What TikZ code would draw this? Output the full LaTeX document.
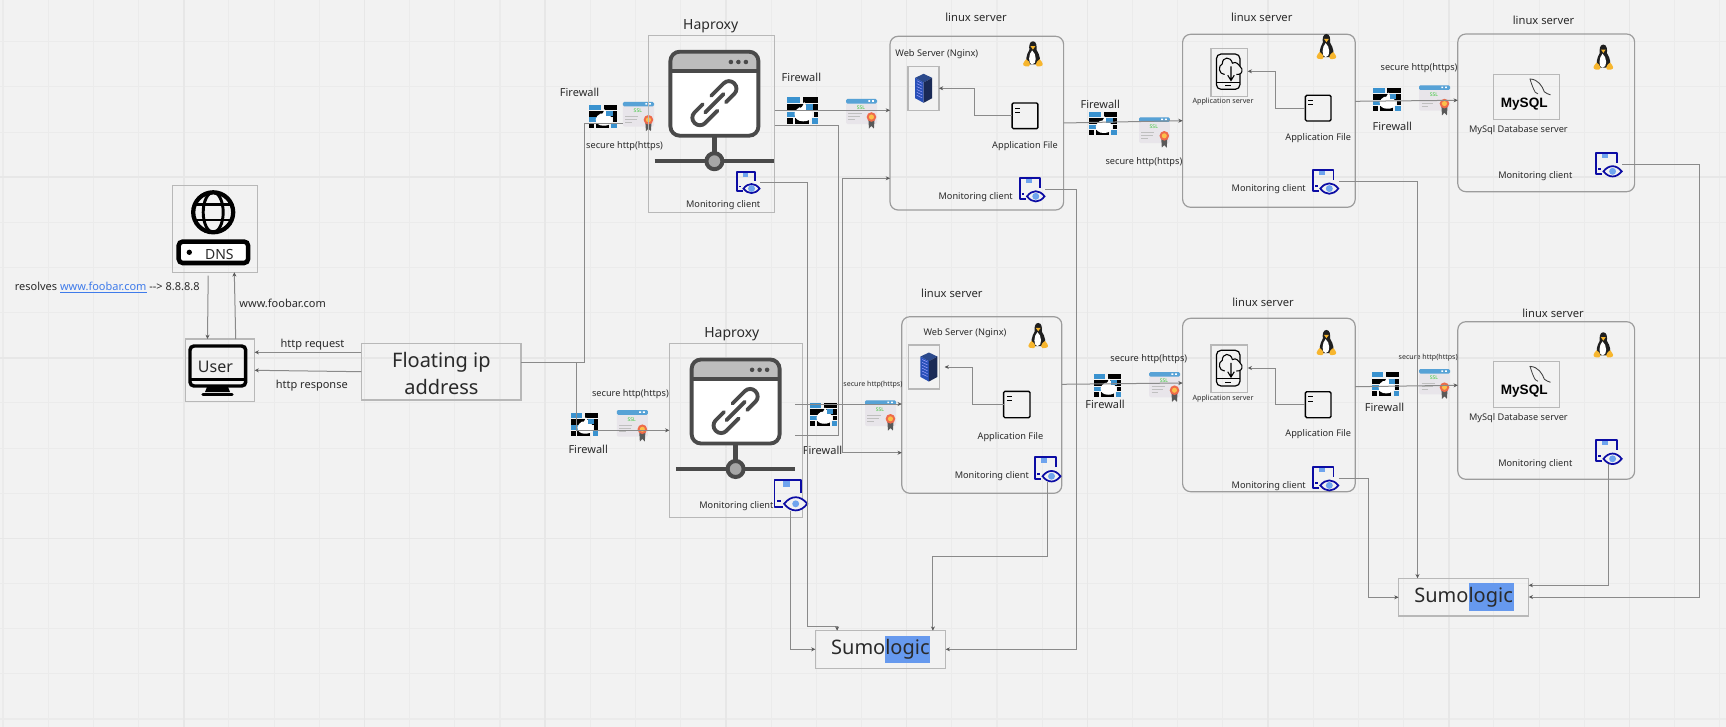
\documentclass[tikz,border=0pt]{standalone}
\usepackage{fontspec}
\setmainfont{Noto Sans}
\newfontfamily\dbfont{Liberation Sans}
\usetikzlibrary{arrows.meta}
\definecolor{bgc}{HTML}{F2F2F2}
\definecolor{gridc}{HTML}{EBEBEB}
\definecolor{gridm}{HTML}{E7E7E7}
\definecolor{boxc}{HTML}{B8B8B8}
\definecolor{linec}{HTML}{8A8A8A}
\definecolor{txtc}{HTML}{2A2A2A}
\definecolor{iconc}{HTML}{4A4A4A}
\definecolor{icong}{HTML}{BDBDBD}
\definecolor{fwblue}{HTML}{3A92CF}
\definecolor{monc}{HTML}{0C0CA4}
\definecolor{monl}{HTML}{6FA4EE}
\definecolor{sslbg}{HTML}{E8E5EA}
\definecolor{hl}{HTML}{6699EE}
\definecolor{racktop}{HTML}{2C4A8C}
\definecolor{rackl}{HTML}{2850B8}
\definecolor{rackr}{HTML}{1A2A56}
\definecolor{tuxo}{HTML}{F7B62E}
\definecolor{sealr}{HTML}{EE6A4A}
\definecolor{sealy}{HTML}{FBC04A}
\tikzset{
  ghost/.style={},
  sqbox/.style={draw=boxc,line width=.9pt},
  rdbox/.style={draw=boxc!85!black,line width=.9pt,rounded corners=6pt},
  conn/.style={draw=linec,line width=.75pt,-{Stealth[length=3.2pt,width=3pt,color=black!65]}},
  plain/.style={draw=linec,line width=.75pt},
  lab/.style={text=txtc,inner sep=0pt,align=center},
  t7/.style={lab,font=\fontsize{5.3}{6.5}\selectfont},
  t8/.style={lab,font=\fontsize{5.4}{6.5}\selectfont},
  t9/.style={lab,font=\fontsize{6.9}{8.5}\selectfont},
  t11/.style={lab,font=\fontsize{8.25}{10}\selectfont},
  tl/.style={lab,font=\fontsize{8.4}{10}\selectfont},
  t14/.style={lab,font=\fontsize{10.5}{12}\selectfont},
  t16/.style={lab,font=\fontsize{12}{14}\selectfont},
  t20/.style={lab,font=\fontsize{15}{20.5}\selectfont},
}
\newcommand\bx[6]{\node[#6,inner sep=0pt,outer sep=0pt,minimum width={((#4)-(#2))*0.75pt},minimum height={((#5)-(#3))*0.75pt}] (#1) at ({((#2)+(#4))/2},{((#3)+(#5))/2}) {};}
\newcommand\ubox[4]{\pgfmathsetmacro\iconsx{((#3)-(#1))*0.0075}\pgfmathsetmacro\iconsy{((#4)-(#2))*0.0075}\begin{scope}[shift={({#1},{#2})},x=\iconsx pt,y=-\iconsy pt]}
\newcommand\firewall[5]{\bx{#1}{#2}{#3}{#4}{#5}{ghost}\ubox{#2}{#3}{#4}{#5}
  \fill[fwblue] (0,0) rectangle (42,22);
  \fill[black] (52,0) rectangle (100,22);
  \fill[black] (0,27) rectangle (100,50);
  \fill[fwblue] (0,54) rectangle (30,74);
  \fill[black] (86,54) rectangle (100,74);
  \fill[black] (0,79) rectangle (18,100);
  \fill[black] (24,79) rectangle (72,100);
  \fill[fwblue] (80,79) rectangle (100,100);
  \fill[white] (55,18) .. controls (60,35) and (82,45) .. (82,65) .. controls (82,85) and (65,90) .. (52,90) .. controls (35,90) and (24,80) .. (24,62) .. controls (24,48) and (34,46) .. (40,38) .. controls (44,44) and (52,36) .. (55,18) -- cycle;
  \fill[fwblue] (62,27) rectangle (84,48);
  \end{scope}}
\newcommand\ssl[5]{\bx{#1}{#2}{#3}{#4}{#5}{ghost}\ubox{#2}{#3}{#4}{#5}
  \fill[sslbg,rounded corners=1.5pt] (0,0) rectangle (100,100);
  \fill[fwblue!85!white,rounded corners=1pt] (0,0) rectangle (100,18);
  \fill[white] (72,5) rectangle (78,11) (84,5) rectangle (90,11);
  \node[inner sep=0pt,text=green!55!gray,font=\fontsize{3.8}{4}\selectfont\bfseries] (#1t) at (48,36) {SSL};
  \draw[black!25,line width=.7pt] (8,58) -- (50,58) (8,70) -- (45,70) (8,82) -- (30,82);
  \fill[black!65] (72,80) -- (92,80) -- (90,118) -- (82,108) -- (74,118) -- cycle;
  \fill[sealr] (82,72) circle[radius=3.6pt];
  \fill[sealy] (82,72) circle[radius=1.9pt];
  \end{scope}}
\newcommand\moni[5]{\bx{#1}{#2}{#3}{#4}{#5}{ghost}\ubox{#2}{#3}{#4}{#5}
  \fill[monl] (26,1) rectangle (48,24);
  \draw[monc,line width=1.3pt,line join=round] (80,42) -- (80,2) -- (2,2) -- (2,88) -- (26,88);
  \draw[monc,line width=1.3pt] (10,68) -- (20,68);
  \draw[monc,line width=1.3pt,fill=bgc] (30,78) .. controls (50,50) and (78,50) .. (98,78) .. controls (78,106) and (50,106) .. (30,78) -- cycle;
  \fill[monl] (64,78) circle[radius=2.6pt];
  \end{scope}}
\newcommand\tux[3]{\bx{#1}{#2-10}{#3-13}{#2+10}{#3+13}{ghost}\ubox{#2-10}{#3-13}{#2+10}{#3+13}
  \fill[black!88] (50,1) .. controls (32,1) and (30,20) .. (32,34) .. controls (16,55) and (12,76) .. (22,90) -- (78,90) .. controls (90,76) and (86,55) .. (68,34) .. controls (70,20) and (68,1) .. (50,1) -- cycle;
  \fill[white] (46,36) .. controls (28,48) and (24,90) .. (46,90) .. controls (72,90) and (68,48) .. (46,36) -- cycle;
  \fill[tuxo] (38,20) -- (62,20) -- (50,33) -- cycle;
  \fill[tuxo] (16,70) .. controls (0,84) and (-6,94) .. (12,97) .. controls (24,100) and (38,98) .. (36,90) .. controls (34,82) and (26,74) .. (16,70) -- cycle;
  \fill[tuxo] (84,70) .. controls (100,84) and (106,94) .. (88,97) .. controls (76,100) and (62,98) .. (64,90) .. controls (66,82) and (74,74) .. (84,70) -- cycle;
  \end{scope}}
\newcommand\rack[3]{\bx{#1}{#2-8.5}{#3-14.5}{#2+8.5}{#3+14.5}{ghost}\ubox{#2-8.5}{#3-14.5}{#2+8.5}{#3+14.5}
  \fill[racktop] (50,0) -- (100,14) -- (50,30) -- (0,14) -- cycle;
  \fill[rackl] (0,14) -- (50,30) -- (50,100) -- (0,84) -- cycle;
  \fill[rackr] (50,30) -- (100,14) -- (100,84) -- (50,100) -- cycle;
  \foreach \k in {24,34,...,74} {\draw[blue!35!white,line width=.35pt] (10,\k) -- (42,\k+9);}
  \end{scope}}
\newcommand\appfile[5]{\bx{#1}{#2}{#3}{#4}{#5}{ghost}\draw[black,line width=1.05pt,fill=bgc,rounded corners=1pt] (#1.north west) rectangle (#1.south east);
  \ubox{#2}{#3}{#4}{#5}\draw[black,line width=.8pt] (12,20) -- (30,20) (12,36) -- (30,36);\end{scope}}
\newcommand\phoneicon[5]{\bx{#1}{#2}{#3}{#4}{#5}{ghost}\ubox{#2}{#3}{#4}{#5}
  \draw[black,line width=.9pt,rounded corners=3.5pt] (0,0) rectangle (100,100);
  \draw[black,line width=.9pt] (0,80) -- (100,80) (38,90) -- (62,90);
  \draw[black,line width=.8pt,fill=bgc] (35,58) .. controls (10,58) and (5,33) .. (25,28) .. controls (25,8) and (60,5) .. (68,26) .. controls (85,20) and (92,28) .. (108,42) .. controls (112,55) and (100,58) .. (85,58);
  \draw[black,line width=.8pt] (62,35) -- (62,75) (48,60) -- (62,75) -- (76,60);
  \end{scope}}
\newcommand\hapicon[3]{\begin{scope}[shift={(#2,#3)}]
  \draw[iconc,line width=3pt] (-15.7,109.5) -- (103.5,109.5);
  \draw[iconc,line width=3.2pt] (44,84) -- (44,109.5);
  \draw[iconc,line width=3pt,fill=gray!70] (44,109.5) circle[radius=6pt];
  \begin{scope}
   \clip[rounded corners=7pt] (0,0) rectangle (88,84);
   \fill[white] (0,0) rectangle (88,84);
   \fill[icong] (0,0) rectangle (88,19.3);
  \end{scope}
  \draw[iconc,line width=2.9pt,rounded corners=7pt] (0,0) rectangle (88,84);
  \draw[iconc,line width=2.9pt] (0,19.3) -- (88,19.3);
  \fill[iconc] (60.5,10.3) circle[radius=1.7pt] (68,10.3) circle[radius=1.7pt] (75.5,10.3) circle[radius=1.7pt];
  \bx{#1}{0}{0}{88}{84}{ghost}
  \begin{scope}[shift={(44,51.5)},rotate=45]
   \draw[iconc,line width=2.9pt,rounded corners=5.5pt,line cap=round] (3,-7.5) -- (28,-7.5) -- (28,7.5) -- (9,7.5);
   \draw[iconc,line width=2.9pt,rounded corners=5.5pt,line cap=round] (-3,7.5) -- (-28,7.5) -- (-28,-7.5) -- (-9,-7.5);
   \draw[iconc,line width=2.9pt,line cap=round] (-13,0) -- (13,0);
  \end{scope}
  \end{scope}}
\newcommand\mysqlicon[6]{\bx{#1}{#2}{#3}{#4}{#5}{sqbox}
  \node[lab,text=black,font=\dbfont\fontsize{10.2}{12}\selectfont\bfseries] (#6) at (1524.2,{(#3)+29.7}) {MySQL};
  \begin{scope}[shift={(#2,#3)}]
   \draw[black!75,line width=.65pt,line cap=round,line join=round] (36.7,4.7) .. controls (45,5) and (49,12) .. (51,17.5) .. controls (53,19) and (55,20) .. (57,20.5);
   \draw[black!75,line width=.6pt,line cap=round,line join=round] (36.7,4.7) .. controls (38,9) and (40,15) .. (42,18) -- (44.5,19.5);
  \end{scope}}
\begin{document}
\begin{tikzpicture}[x=0.75pt,y=-0.75pt]
\fill[bgc] (0,0) rectangle (1726,727);
\path[use as bounding box] (0,0) rectangle (1726,727);
% grid
\foreach \k in {0,...,38} {\pgfmathsetmacro\gx{3+45.18*\k}\draw[gridc,line width=.8pt] (\gx,0) -- (\gx,727);}
\foreach \k in {0,...,16} {\pgfmathsetmacro\gy{-3.4+45.15*\k}\draw[gridc,line width=.8pt] (0,\gy) -- (1726,\gy);}
\foreach \k in {1,...,9} {\pgfmathsetmacro\gx{3+180.72*\k}\draw[gridm,line width=1.2pt] (\gx,0) -- (\gx,727);}
\foreach \k in {1,2,3} {\pgfmathsetmacro\gy{-3.4+180.6*\k}\draw[gridm,line width=1.2pt] (0,\gy) -- (1726,\gy);}
% --- boxes
\bx{dns}{172.1}{185.3}{257.5}{272.3}{sqbox}
\bx{user}{185.4}{339}{254.6}{401.3}{sqbox}
\bx{float}{361.4}{343.7}{521}{400}{sqbox}
\bx{hapa}{648.2}{35.7}{774.6}{212.3}{sqbox}
\bx{hapb}{669.3}{343.3}{802.5}{517.7}{sqbox}
\bx{sa}{890}{36.3}{1063.6}{210}{rdbox}
\bx{sb}{901.8}{316.7}{1061.8}{493.3}{rdbox}
\bx{sc}{1182.6}{34.3}{1355.2}{207.3}{rdbox}
\bx{sd}{1182.6}{318.3}{1355.2}{491.7}{rdbox}
\bx{se}{1457.8}{34}{1634.6}{191.7}{rdbox}
\bx{sf}{1457.8}{321.7}{1634.6}{479.3}{rdbox}
\bx{sumoa}{815.4}{630.7}{945.7}{668.3}{sqbox}
\bx{sumob}{1398.5}{578.3}{1528.7}{616}{sqbox}
% --- DNS
\draw[black,line width=3.2pt] (213.2,212.3) circle[radius=15pt];
\draw[black,line width=2.2pt] (213.2,212.3) ellipse[x radius=7.5pt,y radius=15pt];
\draw[black,line width=2.2pt] (194.5,204.5) -- (232,204.5) (194.5,220) -- (232,220);
\draw[black,line width=3.4pt,fill=white,rounded corners=3pt] (178.7,241.6) rectangle (248.1,263);
\fill[black] (189.3,252.3) circle[radius=2pt];
\node[t14] (dnst) at (219.3,255) {DNS};
% --- user
\draw[black,line width=2.6pt,rounded corners=3pt] (190,346) rectangle (245.7,386);
\draw[black,line width=2.2pt] (190,379.5) -- (245.7,379.5);
\fill[black] (207,387) -- (228,387) -- (230,392) -- (205,392) -- cycle;
\draw[black,line width=2.6pt,line cap=round] (203,394.5) -- (232,394.5);
\node[t16] (usert) at (215.4,366.7) {User};
\node[t20] (floatt) at (441.4,373.5) {Floating ip\\address};
% --- haproxy icons
\hapicon{hapia}{670.4}{51.7}
\hapicon{hapib}{691.6}{359.5}
% --- firewalls and certificates
\firewall{fwa}{589}{105}{617}{128}
\ssl{ssla}{622.9}{102}{654}{126.7}
\draw[boxc,line width=.9pt] (hapa.north west) -- (hapa.south west);
\firewall{fwb}{787.1}{97}{817.9}{124}
\ssl{sslb}{846}{99}{877}{124}
\firewall{fwc}{571}{413}{597.9}{436}
\ssl{sslc}{616.8}{410}{647.9}{436.7}
\firewall{fwd}{810}{403.3}{837.1}{426}
\ssl{ssld}{865}{400.3}{896}{426}
\firewall{fwe}{1089}{112}{1117}{135.3}
\ssl{ssle}{1139}{117.3}{1169.8}{143}
\firewall{fwf}{1373}{88.3}{1400.6}{111}
\ssl{sslf}{1419}{85.3}{1450}{110.7}
\firewall{fwg}{1094}{374.3}{1121.2}{397}
\ssl{sslg}{1149.2}{372}{1180}{397.3}
\firewall{fwh}{1372}{372.3}{1399}{395.7}
\ssl{sslh}{1419}{369}{1450}{394.3}
% --- monitoring icons
\moni{mona}{736.4}{171.7}{760}{193.3}
\moni{monb}{773.9}{479.3}{807.9}{510.7}
\moni{monc1}{1019.3}{177.3}{1045}{201.7}
\moni{mond}{1034.6}{456.7}{1061}{481.7}
\moni{mone}{1312.4}{169.3}{1338.8}{194}
\moni{monf}{1312.4}{466.7}{1338.8}{490.7}
\moni{mong}{1595.4}{152.3}{1622.2}{176.7}
\moni{monh}{1595.4}{439.3}{1622.2}{464.3}
% --- tux
\tux{tuxa}{1032.9}{54}
\tux{tuxb}{1038.2}{335.7}
\tux{tuxc}{1326.4}{46.7}
\tux{tuxd}{1326.4}{342.7}
\tux{tuxe}{1603.3}{57.3}
\tux{tuxf}{1603.3}{345}
% --- inner servers
\bx{webra}{907.9}{66.3}{938.9}{110.3}{sqbox}
\rack{racka}{923.6}{88.3}
\bx{webrb}{908.2}{345}{939.6}{389}{sqbox}
\rack{rackb}{928.9}{367}
\appfile{filea}{1012.1}{103}{1037.9}{128.7}
\appfile{fileb}{1003.6}{391.3}{1030}{417.7}
\appfile{filec}{1305.4}{95.3}{1331}{121}
\appfile{filed}{1305.4}{391.7}{1331}{417.7}
\bx{appsc}{1211}{48.3}{1247.7}{96.7}{sqbox}
\phoneicon{phc}{1216.4}{54}{1239.9}{89.3}
\bx{appsd}{1211}{345}{1247.7}{392.7}{sqbox}
\phoneicon{phd}{1216.4}{350.3}{1239.9}{386}
\mysqlicon{dbe}{1493.3}{74.3}{1559.6}{119.7}{dbet}
\mysqlicon{dbf}{1493.3}{361.7}{1559.6}{407.7}{dbft}
% --- sumologic
\fill[hl] (885.4,636) rectangle (930.4,663.3);
\node[t20] (sumoat) at (880.4,649.5) {Sumologic};
\fill[hl] (1468.6,583.3) rectangle (1513.5,610.7);
\node[t20] (sumobt) at (1463.6,597) {Sumologic};
% --- labels
\node[t11,anchor=west] (res) at (14.6,287.3) {resolves \textcolor[HTML]{3F7BEA}{\underline{www.foobar.com}} {-}{-}> 8.8.8.8};
\node[t11] (www) at (282.7,303.3) {www.foobar.com};
\node[t11] (req) at (312.5,344.3) {http request};
\node[t11] (rsp) at (311.8,385.7) {http response};
\node[t14] (hapat) at (710.7,26.3) {Haproxy};
\node[t14] (hapbt) at (731.8,334.3) {Haproxy};
\node[t11] (fwla) at (579.6,92.3) {Firewall};
\node[t11] (fwlb) at (801.4,77.3) {Firewall};
\node[t11] (fwlc) at (588.2,449) {Firewall};
\node[t11] (fwld) at (822.5,450.7) {Firewall};
\node[t11] (fwle) at (1100.2,104.7) {Firewall};
\node[t11] (fwlf) at (1392.3,126) {Firewall};
\node[t11] (fwlg) at (1105.1,404.3) {Firewall};
\node[t11] (fwlh) at (1384.5,407.3) {Firewall};
\node[t9] (seca) at (624.6,145.7) {secure http(https)};
\node[t9] (secc) at (630.4,394) {secure http(https)};
\node[t7] (secd) at (872.9,384.3) {secure http(https)};
\node[t9] (sece) at (1143.9,162.3) {secure http(https)};
\node[t9] (secf) at (1419,68.3) {secure http(https)};
\node[t9] (secg) at (1148.8,359.3) {secure http(https)};
\node[t7] (sech) at (1428.2,358) {secure http(https)};
\node[tl] (lina) at (976,17.3) {linux server};
\node[tl] (linb) at (951.8,293.7) {linux server};
\node[tl] (linc) at (1261.7,17) {linux server};
\node[tl] (lind) at (1263,302.3) {linux server};
\node[tl] (line) at (1543.5,20.7) {linux server};
\node[tl] (linf) at (1553,313.7) {linux server};
\node[t9] (weba) at (936.8,54.3) {Web Server (Nginx)};
\node[t9] (webb) at (965,333) {Web Server (Nginx)};
\node[t9] (afa) at (1025,145.7) {Application File};
\node[t9] (afb) at (1010.4,437.3) {Application File};
\node[t9] (afc) at (1318.2,137.7) {Application File};
\node[t9] (afd) at (1318.2,434.3) {Application File};
\node[t8] (asc) at (1223,101.7) {Application server};
\node[t8] (asd) at (1223,398.3) {Application server};
\node[t9] (dbe2) at (1518.4,130.3) {MySql Database server};
\node[t9] (dbf2) at (1518.4,418) {MySql Database server};
\node[t9] (mla) at (723.2,204.7) {Monitoring client};
\node[t9] (mlb) at (736.4,506.3) {Monitoring client};
\node[t9] (mlc) at (975.7,196.7) {Monitoring client};
\node[t9] (mld) at (991.8,476.3) {Monitoring client};
\node[t9] (mle) at (1268.7,189) {Monitoring client};
\node[t9] (mlf) at (1268.7,485.7) {Monitoring client};
\node[t9] (mlg) at (1535.3,176) {Monitoring client};
\node[t9] (mlh) at (1535.3,463.7) {Monitoring client};
% --- connectors
\draw[conn] (dns.south -| 208.2,0) +(0,3.4) -- (user.north -| 207.5,0);
\draw[conn] (user.north -| 235.7,0) -- (dns.south -| 234.3,0);
\draw[conn] (float.west |- 0,352.3) -- (user.east |- 0,352.3);
\draw[conn] (float.west |- 0,371.7) -- (user.east |- 0,370.3);
\draw[plain] (float.east |- 0,362.3) -- (584.6,362.3) -- (584.6,124) -- (ssla.west |- 0,124);
\draw[conn] (float.east |- 0,362.3) -- (576.8,362.3) -- (576.8,430.3) -- (hapb.west |- 0,430.3);
\draw[conn] (hapa.east |- 0,110.3) -- (sa.west |- 0,110.3);
\coordinate (hapbo) at (795.4,435.3);
\coordinate (hapbp) at (795.4,404);
\draw[plain] (hapa.east |- 0,125.3) -- (838.2,125.3) -- (838.2,435.3) -- (hapbo);
\draw[conn,{Stealth[length=3.2pt,width=3pt,color=black!65]}-{Stealth[length=3.2pt,width=3pt,color=black!65]}] (sa.west |- 0,178.3) -- (842.5,178.3) -- (842.5,452.7) -- (sb.west |- 0,452.7);
\draw[conn] (hapbp) -- (sb.west |- 0,404);
\draw[conn] (mona.east |- 0,182.3) -- (807.5,182.3) -- (807.5,626.7) -- (837.1,626.7) -- (sumoa.north -| 837.1,0);
\draw[conn] (monb.south -| 790.7,0) -- (790.7,649.3) -- (sumoa.west |- 0,649.3);
\draw[conn] (monc1.east |- 0,189.3) -- (1076.4,189.3) -- (1076.4,649.3) -- (sumoa.east |- 0,649.3);
\draw[conn] (mond.south -| 1047.9,0) -- (1047.9,556.3) -- (932.9,556.3) -- (sumoa.north -| 932.9,0);
\draw[conn] (filea.west |- 0,115.7) -- (974.6,115.7) -- (974.6,88.3) -- (webra.east |- 0,88.3);
\draw[conn] (fileb.west |- 0,404.3) -- (972.9,404.3) -- (972.9,367) -- (944.6,367);
\draw[conn] (filec.west |- 0,108.3) -- (1275.3,108.3) -- (1275.3,71.3) -- (appsc.east |- 0,71.3);
\draw[conn] (filed.west |- 0,404.3) -- (1275.3,404.3) -- (1275.3,368) -- (appsd.east |- 0,368);
\draw[conn] (sa.east |- 0,123) -- (sc.west |- 0,120.7);
\draw[conn] (sc.east |- 0,101.3) -- (se.west |- 0,100.3);
\draw[conn] (sb.east |- 0,384.3) -- (sd.west |- 0,383);
\draw[conn] (sd.east |- 0,386.7) -- (sf.west |- 0,385.3);
\draw[conn] (mone.east |- 0,181.7) -- (1417.5,181.7) -- (sumob.north -| 1417.5,0);
\draw[conn] (monf.east |- 0,478.3) -- (1368.4,478.3) -- (1368.4,597.3) -- (sumob.west |- 0,597.3);
\draw[conn] (mong.east |- 0,164.3) -- (1699.7,164.3) -- (1699.7,597) -- (sumob.east |- 0,597);
\draw[conn] (monh.south -| 1608.6,0) -- (1608.6,585.3) -- (sumob.east |- 0,585.3);
\end{tikzpicture}
\end{document}
